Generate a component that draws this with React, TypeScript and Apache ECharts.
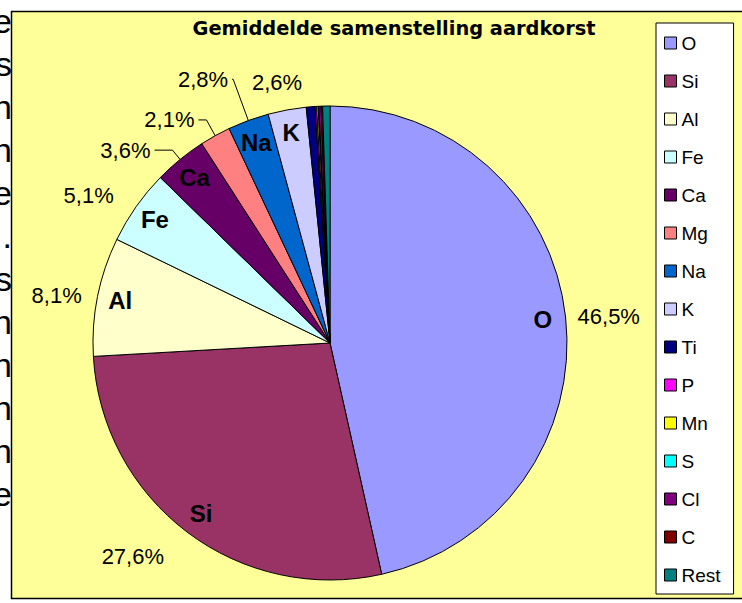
import React, { useEffect, useRef } from 'react';
import * as echarts from 'echarts';

const TITLE = 'Gemiddelde samenstelling aardkorst';
const ELEMENTS = ['O', 'Si', 'Al', 'Fe', 'Ca', 'Mg', 'Na', 'K', 'Ti', 'P', 'Mn', 'S', 'Cl', 'C', 'Rest'];
const PERCENTAGES = [46.5, 27.6, 8.1, 5.1, 3.6, 2.1, 2.8, 2.6, 0.6, 0.1, 0.1, 0.05, 0.15, 0.1, 0.5];
const COLORS = ['#9999FF', '#993366', '#FFFFCC', '#CCFFFF', '#660066', '#FF8080', '#0066CC', '#CCCCFF', '#000080', '#FF00FF', '#FFFF00', '#00FFFF', '#800080', '#800000', '#008080'];
const LABELLED = ['O', 'Si', 'Al', 'Fe', 'Ca', 'Mg', 'Na', 'K'];
const WITH_LEADER = ['Ca', 'Mg', 'Na'];
const LEFT_LETTERS = ['e', 's', 'n', 'n', 'e', '.', 's', 'n', 'n', 'n', 'n', 'e'];

// label line geometry per element: [length, length2]
const LINE_LEN: Record<string, [number, number]> = {
  O: [4, 4],
  Si: [30, 1],
  Al: [6, 6],
  Fe: [20, 2],
  Ca: [12, 18],
  Mg: [18, 8],
  Na: [44, 1],
  K: [28, 1],
};
// labels aligned to the chart's left edge (distance in px)
const EDGE_ALIGNED: Record<string, number> = { K: 252 };

const CX = 330;
const CY = 343;
const R = 237;

export default function App() {
  const ref = useRef<HTMLDivElement>(null);

  useEffect(() => {
    if (!ref.current) return;
    const chart = echarts.init(ref.current, undefined, { renderer: 'svg' });

    const fmtPct = (p: any) => (p.value as number).toFixed(1).replace('.', ',') + '%';

    const mainData = ELEMENTS.map((name, i) => {
      const ll = LINE_LEN[name] || [0, 0];
      const label: any = { show: LABELLED.includes(name) };
      if (EDGE_ALIGNED[name] !== undefined) {
        label.alignTo = 'edge';
        label.edgeDistance = EDGE_ALIGNED[name];
      }
      return {
        name,
        value: PERCENTAGES[i],
        itemStyle: { color: COLORS[i] },
        label,
        labelLine: { show: WITH_LEADER.includes(name), length: ll[0], length2: ll[1] },
      };
    });

    const nameData = ELEMENTS.map((name, i) => ({
      name,
      value: PERCENTAGES[i],
      label: { show: LABELLED.includes(name) },
    }));

    chart.setOption({
      animation: false,
      graphic: [
        {
          type: 'rect',
          z: 0,
          shape: { x: 11.5, y: 11.5, width: 740, height: 587 },
          style: { fill: '#FFFF99', stroke: '#000', lineWidth: 1.5 },
        },
        {
          type: 'text',
          z: 1,
          x: 394,
          y: 28,
          style: {
            text: TITLE,
            font: 'bold 19.4px "DejaVu Sans"',
            fill: '#000',
            align: 'center',
            verticalAlign: 'middle',
            textAlign: 'center',
            textVerticalAlign: 'middle',
          },
        },
      ],
      legend: {
        orient: 'vertical',
        left: 656,
        top: 23,
        height: 560,
        data: ELEMENTS,
        backgroundColor: '#fff',
        borderColor: '#000',
        borderWidth: 1,
        padding: [10, 13, 9, 8],
        itemGap: 18,
        itemWidth: 12,
        itemHeight: 12,
        icon: 'rect',
        selectedMode: false,
        itemStyle: { borderColor: '#000', borderWidth: 1 },
        textStyle: {
          fontFamily: '"Liberation Sans", Arial, sans-serif',
          fontSize: 19,
          lineHeight: 20,
          color: '#000',
        },
      },
      series: [
        {
          type: 'pie',
          center: [CX, CY],
          radius: [0, R],
          startAngle: 90,
          clockwise: true,
          avoidLabelOverlap: false,
          silent: true,
          itemStyle: { borderColor: '#000', borderWidth: 1 },
          label: {
            position: 'outside',
            formatter: fmtPct,
            fontFamily: '"Liberation Sans", Arial, sans-serif',
            fontSize: 22,
            color: '#000',
            distanceToLabelLine: 4,
          },
          labelLine: { lineStyle: { color: '#000', width: 1 }, smooth: false },
          emphasis: { disabled: true },
          data: mainData,
        },
        {
          type: 'pie',
          center: [CX, CY],
          radius: [185, R],
          startAngle: 90,
          clockwise: true,
          avoidLabelOverlap: false,
          silent: true,
          itemStyle: { color: 'rgba(0,0,0,0)', borderWidth: 0 },
          label: {
            position: 'inside',
            formatter: '{b}',
            fontFamily: '"Liberation Sans", Arial, sans-serif',
            fontWeight: 'bold',
            fontSize: 24,
            color: '#000',
          },
          labelLine: { show: false },
          emphasis: { disabled: true },
          data: nameData,
        },
      ],
    });

    return () => chart.dispose();
  }, []);

  return (
    <div style={{ position: 'absolute', left: 0, top: 0, width: 742, height: 603, overflow: 'hidden', background: '#fff' }}>
      <div
        style={{
          position: 'absolute',
          left: -50,
          top: 0,
          width: 62,
          textAlign: 'right',
          fontFamily: '"Liberation Sans", Arial, sans-serif',
          fontSize: 34,
          lineHeight: '43px',
          color: '#000',
        }}
      >
        {LEFT_LETTERS.map((c, i) => (
          <div key={i}>{c}</div>
        ))}
      </div>
      <div ref={ref} style={{ position: 'absolute', left: 0, top: 0, width: 742, height: 603 }} />
    </div>
  );
}
